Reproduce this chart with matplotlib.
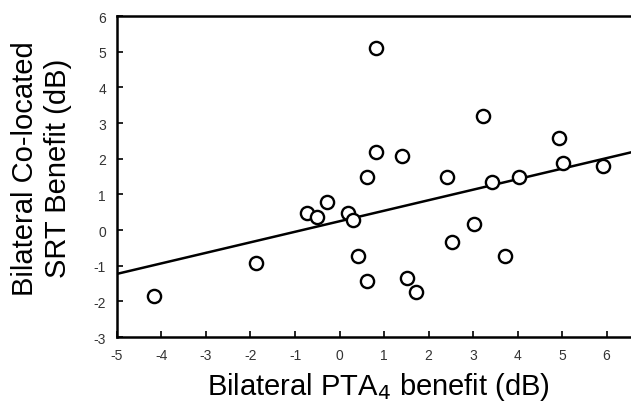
import matplotlib
matplotlib.use('Agg')
import matplotlib.pyplot as plt
import numpy as np

plt.rcParams['font.family'] = ['Liberation Sans', 'DejaVu Sans']
plt.rcParams['axes.unicode_minus'] = False

# ---- data ----
pta_benefit = [-4.17, -1.88, -0.72, -0.50, -0.29, 0.20, 0.31, 0.41, 0.61, 0.61,
               0.82, 0.82, 1.41, 1.51, 1.71, 2.42, 2.53, 3.03, 3.22, 3.43,
               3.72, 4.03, 4.93, 5.02, 5.92]
srt_benefit = [-1.84, -0.92, 0.48, 0.36, 0.79, 0.48, 0.28, -0.73, -1.43, 1.48,
               2.18, 5.10, 2.08, -1.34, -1.74, 1.48, -0.33, 0.17, 3.19, 1.36,
               -0.73, 1.48, 2.58, 1.88, 1.80]
x_ticks = [-5, -4, -3, -2, -1, 0, 1, 2, 3, 4, 5, 6]
y_ticks = [-3, -2, -1, 0, 1, 2, 3, 4, 5, 6]
fit_slope, fit_intercept = 0.295, 0.245

fig = plt.figure(figsize=(6.31, 4.10), dpi=100)
ax = fig.add_axes([0.1854, 0.1756, 0.8146, 0.7829])

xs = np.array([-5, 6.55])
ax.plot(xs, fit_intercept + fit_slope * xs, color='black', lw=1.8, zorder=2)
ax.plot(pta_benefit, srt_benefit, 'o', ms=9.5, mfc='white', mec='black', mew=1.7,
        zorder=3, clip_on=False)

ax.set_xlim(-5, 6.55)
ax.set_ylim(-3, 6)
ax.set_xticks(x_ticks)
ax.set_yticks(y_ticks)
ax.spines['right'].set_visible(False)
for s in ['left', 'bottom', 'top']:
    ax.spines[s].set_linewidth(1.8)
ax.tick_params(direction='in', length=4, width=1.2, labelsize=10,
               labelcolor='#333333', pad=8)

ax.set_xlabel('Bilateral PTA$_4$ benefit (dB)', fontsize=21)
ax.set_ylabel('Bilateral Co-located\nSRT Benefit (dB)', fontsize=21,
              linespacing=1.25)
ax.xaxis.set_label_coords(0.5097, -0.103)
ax.yaxis.set_label_coords(-0.087, 0.528)

fig.savefig('out.png', dpi=100)
